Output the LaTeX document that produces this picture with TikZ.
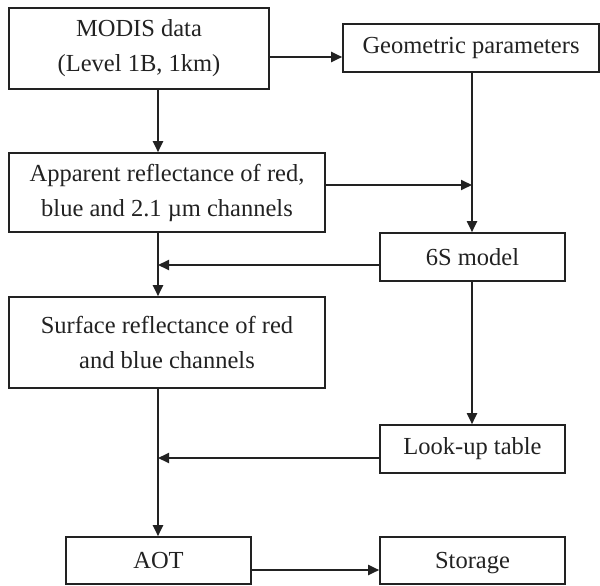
\documentclass[tikz,border=0pt]{standalone}
\usepackage{fontspec}
\setmainfont{Liberation Serif}
\usetikzlibrary{arrows.meta}
\definecolor{ink}{HTML}{222222}
\begin{document}
\begin{tikzpicture}[x=1pt,y=-1pt,
  box/.style={draw=ink,line width=1.6pt,rectangle,inner sep=0pt,align=center,text=ink,
    font=\fontsize{24.5}{35}\selectfont},
  arr/.style={draw=ink,line width=1.9pt,-{Triangle[length=11pt,width=10pt]}},
  ln/.style={draw=ink,line width=1.9pt}]
\useasboundingbox (0,0) rectangle (600,586);
\node[box,minimum width=260pt,minimum height=81pt] (modis) at (139,48.5) {MODIS data\\(Level 1B, 1km)};
\node[box,minimum width=256pt,minimum height=48pt] (geo) at (471,48) {Geometric parameters};
\node[box,minimum width=316pt,minimum height=79pt] (app) at (167,192.5) {Apparent reflectance of red,\\blue and 2.1 µm channels};
\node[box,minimum width=185pt,minimum height=48pt] (sixs) at (472.5,257) {6S model};
\node[box,minimum width=316pt,minimum height=91pt] (surf) at (167,342.5) {Surface reflectance of red\\and blue channels};
\node[box,minimum width=185pt,minimum height=48pt] (lut) at (472.5,449) {Look-up table};
\node[box,minimum width=185pt,minimum height=47pt] (aot) at (158.5,560.5) {AOT};
\node[box,minimum width=185pt,minimum height=47pt,text depth=0pt] (stor) at (472.5,560.5) {Storage};
\coordinate (spine) at (158,0);
\coordinate (right) at (472,0);
\draw[arr] ([yshift=-8.5pt]modis.east) -- ([yshift=-8.5pt]modis.east -| geo.west);
\draw[arr] (modis.south -| spine) -- (app.north -| spine);
\draw[arr] (geo.south -| right) -- (sixs.north -| right);
\draw[arr] ([yshift=7.5pt]app.east) -- ([yshift=7.5pt]app.east -| right);
\draw[arr] (app.south -| spine) -- (surf.north -| spine);
\draw[arr] ([yshift=-8pt]sixs.west) -- ([yshift=-8pt]sixs.west -| spine);
\draw[arr] (surf.south -| spine) -- (aot.north -| spine);
\draw[arr] (sixs.south -| right) -- (lut.north -| right);
\draw[arr] ([yshift=-9pt]lut.west) -- ([yshift=-9pt]lut.west -| spine);
\draw[arr] ([yshift=-9.5pt]aot.east) -- ([yshift=-9.5pt]aot.east -| stor.west);
\end{tikzpicture}
\end{document}
